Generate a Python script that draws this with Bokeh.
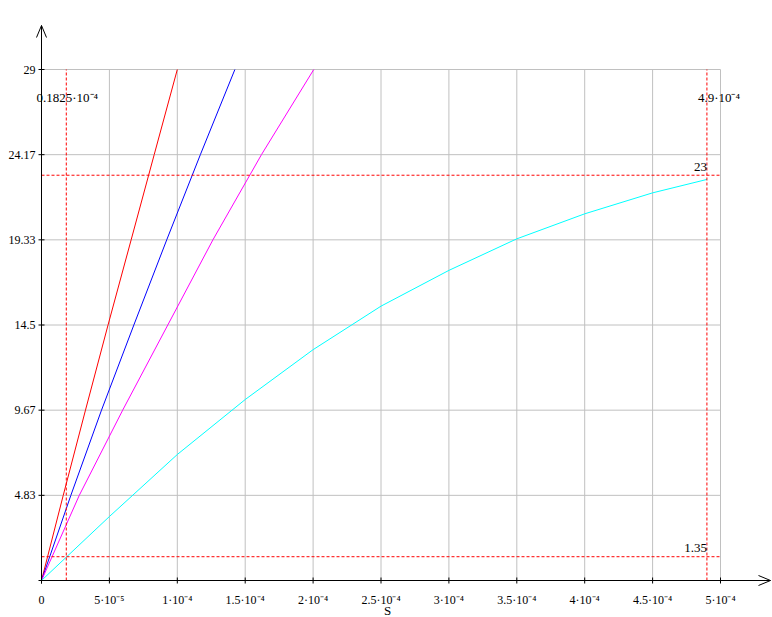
from bokeh.plotting import figure
from bokeh.models import Range1d
from bokeh.core.properties import value
from bokeh.embed import file_html
from bokeh.resources import INLINE

# ---------------- data ----------------
y_ticks = [29 / 6 * i for i in range(1, 7)]
y_tick_labels = ["4.83", "9.67", "14.5", "19.33", "24.17", "29"]
x_ticks = [0, 5e-5, 1e-4, 1.5e-4, 2e-4, 2.5e-4, 3e-4, 3.5e-4, 4e-4, 4.5e-4, 5e-4]
x_tick_labels = ["0", "5·10⁻⁵", "1·10⁻⁴", "1.5·10⁻⁴", "2·10⁻⁴", "2.5·10⁻⁴",
                 "3·10⁻⁴", "3.5·10⁻⁴", "4·10⁻⁴", "4.5·10⁻⁴", "5·10⁻⁴"]
x_title = "S"

curve_y = [0, 4.83, 9.67, 14.5, 19.33, 24.17, 29]
red_s = [0, 1.6e-5, 3.24e-5, 4.9e-5, 6.6e-5, 8.3e-5, 1.0e-4]
blue_s = [0, 2.16e-5, 4.42e-5, 6.8e-5, 9.22e-5, 1.17e-4, 1.424e-4]
magenta_s = [0, 2.78e-5, 5.98e-5, 9.3e-5, 1.262e-4, 1.62e-4, 2.005e-4]

cyan_s = [0, 0.5e-4, 1e-4, 1.5e-4, 2e-4, 2.5e-4, 3e-4, 3.5e-4, 4e-4, 4.5e-4, 4.9e-4]
cyan_y = [0, 3.63, 7.15, 10.27, 13.1, 15.57, 17.6, 19.39, 20.81, 22.0, 22.76]

marker_s = [0.1825e-4, 4.9e-4]
marker_y = [1.35, 23]
marker_s_labels = ["0.1825·10⁻⁴", "4.9·10⁻⁴"]
marker_y_labels = ["1.35", "23"]

x_max = 5e-4
y_max = 29

# ---------------- layout (whole canvas is the frame) ----------------
W, H = 772, 617
OX, OY = 41, 580                 # pixel position of the origin
px_per_x = 679 / x_max           # 5e-4 spans 679 px
px_per_y = 511 / y_max           # 29 spans 511 px


def dx(px):
    return px / px_per_x


def dy(px):
    return px / px_per_y


x_start, x_end = dx(-OX), dx(W - OX)
y_start, y_end = dy(-(H - OY)), dy(OY)

FONT = "Liberation Serif"

p = figure(width=W, height=H, output_backend="svg", toolbar_location=None,
           x_range=Range1d(x_start, x_end), y_range=Range1d(y_start, y_end),
           x_axis_type=None, y_axis_type=None, min_border=0)
p.outline_line_color = None
p.xgrid.visible = False
p.ygrid.visible = False
p.background_fill_color = "white"
p.border_fill_color = "white"

# grid
grid_color = "#c0c0c0"
gx = [t for t in x_ticks if t > 0]
p.segment(x0=gx, y0=[0] * len(gx), x1=gx, y1=[y_max] * len(gx), line_color=grid_color, line_width=1)
p.segment(x0=[0] * len(y_ticks), y0=y_ticks, x1=[x_max] * len(y_ticks), y1=y_ticks,
          line_color=grid_color, line_width=1)

# curves
p.line(red_s, curve_y, line_color="#ff0000", line_width=1)
p.line(blue_s, curve_y, line_color="#0000ff", line_width=1)
p.line(magenta_s, curve_y, line_color="#ff00ff", line_width=1)
p.line(cyan_s, cyan_y, line_color="#00ffff", line_width=1)

# dashed marker lines
p.segment(x0=marker_s, y0=[0, 0], x1=marker_s, y1=[y_max, y_max],
          line_color="#ff0000", line_dash="3 2", line_width=1)
p.segment(x0=[0, 0], y0=marker_y, x1=[x_max, x_max], y1=marker_y,
          line_color="#ff0000", line_dash="3 2", line_width=1)

# axes with arrow heads
x_tip = dx(770 - OX)
y_tip = dy(OY - 25)
p.segment(x0=[dx(-3), 0], y0=[0, dy(-3)], x1=[x_tip, 0], y1=[0, y_tip], line_color="black", line_width=1)
head_len, head_half = 12, 5
p.line([x_tip - dx(head_len), x_tip, x_tip - dx(head_len)], [dy(head_half), 0, dy(-head_half)],
       line_color="black", line_width=1)
p.line([dx(-head_half), 0, dx(head_half)], [y_tip - dy(head_len), y_tip, y_tip - dy(head_len)],
       line_color="black", line_width=1)

# tick marks
p.segment(x0=x_ticks, y0=[dy(-3)] * len(x_ticks), x1=x_ticks, y1=[dy(3)] * len(x_ticks),
          line_color="black", line_width=1)
p.segment(x0=[dx(-3)] * len(y_ticks), y0=y_ticks, x1=[dx(3)] * len(y_ticks), y1=y_ticks,
          line_color="black", line_width=1)

# tick labels
p.text(x=x_ticks, y=[dy(-19)] * len(x_ticks), text=x_tick_labels, text_align="center",
       text_baseline="alphabetic", text_font=value(FONT), text_font_size="12px", text_color="black")
p.text(x=[dx(-6)] * len(y_ticks), y=y_ticks, text=y_tick_labels, text_align="right",
       text_baseline="middle", text_font=value(FONT), text_font_size="12px", text_color="black")

# axis title
p.text(x=[dx(346)], y=[dy(-30)], text=[x_title], text_align="center", text_baseline="alphabetic",
       text_font=value(FONT), text_font_size="13px", text_color="black")

# marker labels
p.text(x=[dx(-5), marker_s[1] - dx(9)], y=[y_max - dy(28)] * 2, text=marker_s_labels,
       text_align="left", text_baseline="alphabetic", text_font=value(FONT),
       text_font_size="13px", text_color="black")
p.text(x=[marker_s[1], marker_s[1]], y=[marker_y[0] + dy(9), marker_y[1] + dy(8)],
       text=marker_y_labels, text_align="right", text_baseline="alphabetic",
       text_font=value(FONT), text_font_size="13px", text_color="black")

open("out.html", "w").write(file_html(p, INLINE))
